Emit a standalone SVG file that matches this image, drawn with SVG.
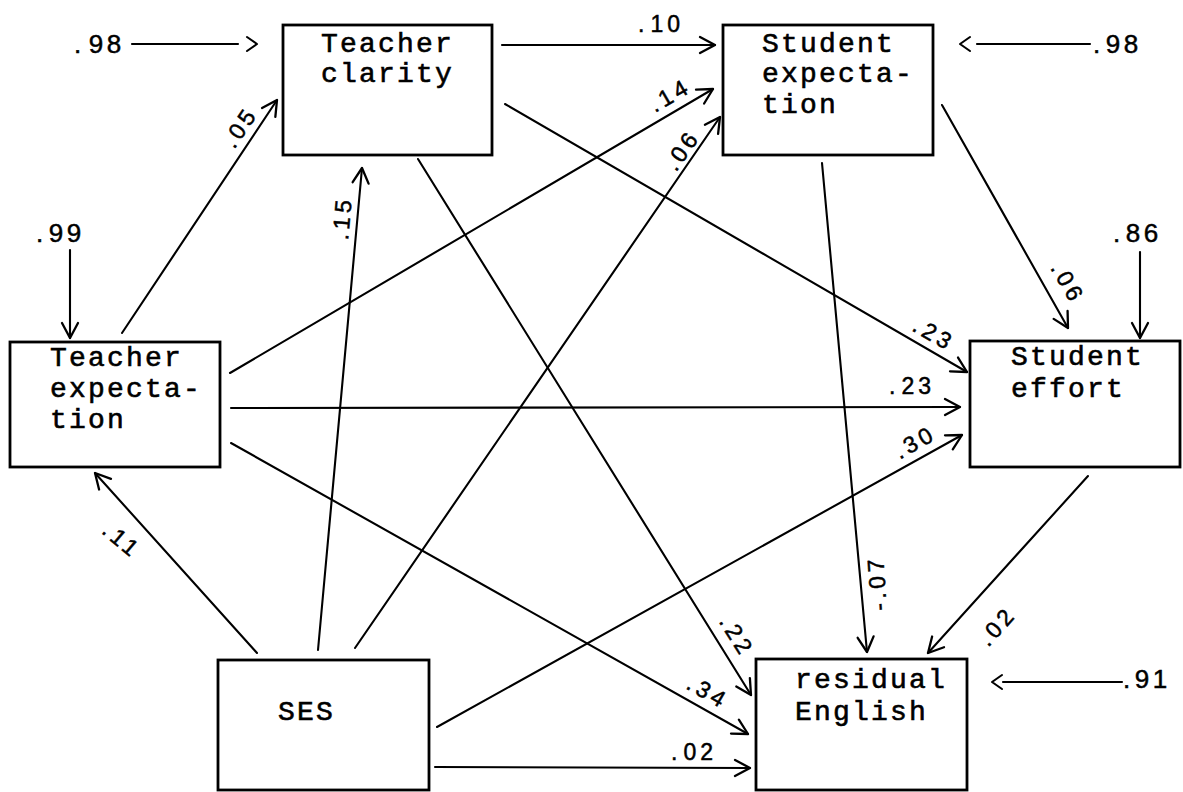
<svg xmlns="http://www.w3.org/2000/svg" width="1183" height="792" viewBox="0 0 1183 792">
<style>
.box{fill:#fff;stroke:#000;stroke-width:2.8}
.nt{font-family:"Liberation Mono","Courier New",monospace;font-size:28px;letter-spacing:2.2px;fill:#000;stroke:#000;stroke-width:0.6px}
.ex{font-family:"Liberation Sans",Arial,sans-serif;font-size:26px;letter-spacing:3.5px;fill:#000;stroke:#000;stroke-width:0.5px}
.co{font-family:"Liberation Sans",Arial,sans-serif;font-size:23px;letter-spacing:4px;fill:#000;stroke:#000;stroke-width:0.5px}
.rc{text-anchor:middle}
#connectors line,#connectors path{stroke:#000;stroke-width:2.1;fill:none;stroke-linecap:round;stroke-linejoin:round}
</style>
<defs>
<marker id="ah" markerUnits="userSpaceOnUse" markerWidth="20" markerHeight="20" viewBox="-17 -10 20 20" refX="0" refY="0" orient="auto">
<path d="M-15,-8 L0,0 L-15,8" fill="none" stroke="#000" stroke-width="2.3" stroke-linecap="round" stroke-linejoin="round"/>
</marker>
</defs>
<rect width="1183" height="792" fill="#fff"/>
<g id="connectors">
<line x1="132" y1="44" x2="238" y2="44"/>
<path d="M247,37 L257,44 L247,51"/>
<line x1="502" y1="45" x2="715" y2="45" marker-end="url(#ah)"/>
<line x1="122" y1="333" x2="277" y2="100" marker-end="url(#ah)"/>
<line x1="70" y1="250" x2="70" y2="338" marker-end="url(#ah)"/>
<line x1="257" y1="653" x2="95" y2="473" marker-end="url(#ah)"/>
<line x1="318" y1="650" x2="362" y2="168" marker-end="url(#ah)"/>
<line x1="355" y1="648" x2="720" y2="117" marker-end="url(#ah)"/>
<line x1="230" y1="373" x2="713" y2="89" marker-end="url(#ah)"/>
<line x1="505" y1="104" x2="967" y2="372" marker-end="url(#ah)"/>
<line x1="231" y1="408" x2="960" y2="407" marker-end="url(#ah)"/>
<line x1="437" y1="727" x2="962" y2="435" marker-end="url(#ah)"/>
<line x1="418" y1="159" x2="751" y2="695" marker-end="url(#ah)"/>
<line x1="231" y1="443" x2="748" y2="734" marker-end="url(#ah)"/>
<line x1="435" y1="767" x2="750" y2="768" marker-end="url(#ah)"/>
<line x1="822" y1="163" x2="867" y2="652" marker-end="url(#ah)"/>
<line x1="942" y1="105" x2="1068" y2="328" marker-end="url(#ah)"/>
<line x1="1140" y1="252" x2="1140" y2="338" marker-end="url(#ah)"/>
<line x1="1088" y1="476" x2="928" y2="653" marker-end="url(#ah)"/>
<line x1="977" y1="44" x2="1090" y2="44"/>
<path d="M970,37 L960,44 L970,51"/>
<line x1="1003" y1="682" x2="1122" y2="682"/>
<path d="M1002,675 L992,682 L1002,689"/>
</g>
<g id="labels">
<text class="ex" x="74" y="53">.<tspan dx="4">98</tspan></text>
<text class="ex" x="1093" y="53">.<tspan dx="2">98</tspan></text>
<text class="ex" x="36" y="242">.<tspan dx="2">99</tspan></text>
<text class="ex" x="1113" y="242">.<tspan dx="2">86</tspan></text>
<text class="ex" x="1123" y="688">.<tspan dx="1">91</tspan></text>
<text class="co" x="638" y="32">.<tspan dx="2">10</tspan></text>
<text class="co" x="889" y="394">.<tspan dx="2">23</tspan></text>
<text class="co" x="671" y="760">.<tspan dx="2">02</tspan></text>
<text class="co rc" transform="translate(240,127) rotate(-56)" y="8">.05</text>
<text class="co rc" transform="translate(342,218) rotate(-85)" y="8">.15</text>
<text class="co rc" transform="translate(670,95) rotate(-30)" y="8">.14</text>
<text class="co rc" transform="translate(682,150) rotate(-55)" y="8">.06</text>
<text class="co rc" transform="translate(934,334) rotate(30)" y="8">.23</text>
<text class="co rc" transform="translate(915,442) rotate(-29)" y="8">.30</text>
<text class="co rc" transform="translate(1068,283) rotate(60)" y="8">.06</text>
<text class="co rc" transform="translate(737,636) rotate(58)" y="8">.22</text>
<text class="co rc" transform="translate(708,692) rotate(30)" y="8">.34</text>
<text class="co rc" transform="translate(122,540) rotate(40)" y="8">.11</text>
<text class="co rc" transform="translate(997,626) rotate(-48)" y="8">.02</text>
<text class="co rc" transform="translate(877,583) rotate(-94)" y="8">-.07</text>
</g>
<g id="teacher-clarity">
<rect class="box" x="283" y="25" width="209" height="130"/>
<text class="nt" x="321" y="52">Teacher</text>
<text class="nt" x="321" y="82">clarity</text>
</g>
<g id="student-expectation">
<rect class="box" x="723" y="25" width="210" height="130"/>
<text class="nt" x="762" y="52">Student</text>
<text class="nt" x="762" y="82">expecta-</text>
<text class="nt" x="762" y="113">tion</text>
</g>
<g id="teacher-expectation">
<rect class="box" x="10" y="342" width="210" height="125"/>
<text class="nt" x="50" y="366">Teacher</text>
<text class="nt" x="50" y="397">expecta-</text>
<text class="nt" x="50" y="428">tion</text>
</g>
<g id="student-effort">
<rect class="box" x="970" y="341" width="210" height="126"/>
<text class="nt" x="1011" y="365">Student</text>
<text class="nt" x="1011" y="397">effort</text>
</g>
<g id="ses">
<rect class="box" x="218" y="660" width="211" height="130"/>
<text class="nt" x="278" y="720">SES</text>
</g>
<g id="residual-english">
<rect class="box" x="756" y="659" width="211" height="131"/>
<text class="nt" x="795" y="688">residual</text>
<text class="nt" x="795" y="720">English</text>
</g>
</svg>
